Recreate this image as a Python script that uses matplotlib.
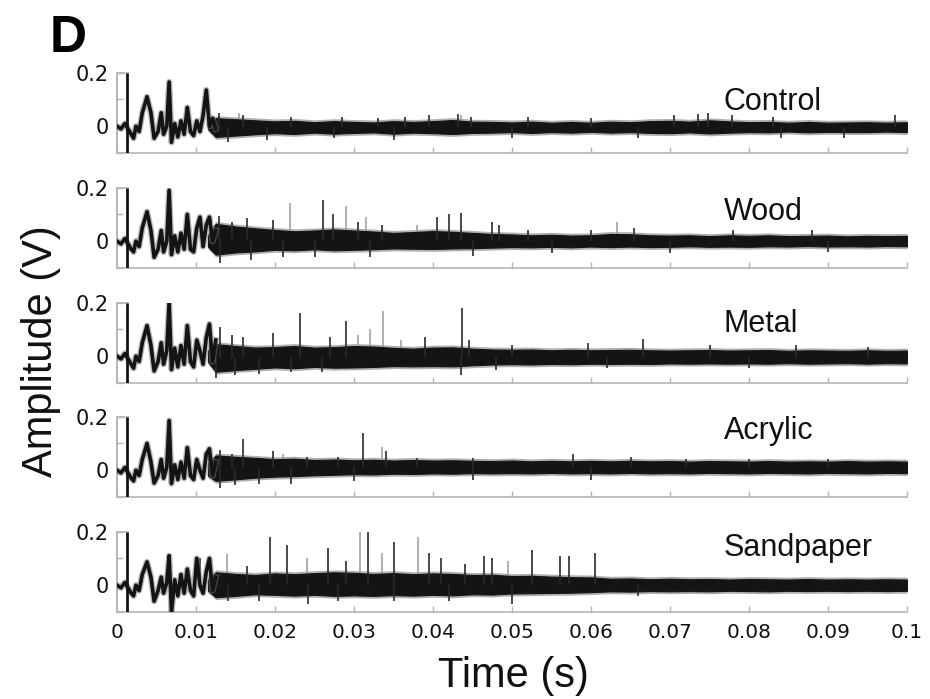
import numpy as np
import matplotlib
matplotlib.use('Agg')
import matplotlib.pyplot as plt
from matplotlib.transforms import blended_transform_factory

# ---------------- data ----------------
names = ['Control', 'Wood', 'Metal', 'Acrylic', 'Sandpaper']
x_ticks = [0, 0.01, 0.02, 0.03, 0.04, 0.05, 0.06, 0.07, 0.08, 0.09, 0.1]
x_tick_labels = ['0', '0.01', '0.02', '0.03', '0.04', '0.05', '0.06', '0.07', '0.08', '0.09', '0.1']
y_ticks = [-0.1, 0, 0.1, 0.2]
y_tick_labels = ['', '0', '', '0.2']

# early oscillation (s, V)
osc_t = [0, 0.0005, 0.001, 0.0018, 0.0021, 0.0024, 0.0028, 0.0032, 0.0038, 0.0043, 0.0047,
         0.0052, 0.0056, 0.0059, 0.0063, 0.0066, 0.0069, 0.0073, 0.0077, 0.0081, 0.0085,
         0.0089, 0.0093, 0.0097, 0.0101, 0.0105, 0.0109, 0.0113, 0.0117, 0.0121, 0.0125]
osc_control = [0.0, -0.01, 0.01, -0.03, -0.045, 0.0, -0.02, 0.05, 0.11, 0.05, -0.045,
               -0.02, 0.05, -0.03, 0.0, 0.165, -0.06, 0.01, -0.04, 0.02, -0.03,
               0.07, -0.02, -0.035, 0.02, -0.02, 0.04, 0.135, 0.0, 0.03, -0.01]
osc_wood = [0.0, -0.01, 0.01, -0.03, -0.04, 0.0, -0.02, 0.05, 0.11, 0.04, -0.06,
            -0.03, 0.04, -0.04, 0.0, 0.19, -0.05, 0.02, -0.04, 0.03, -0.03,
            0.1, -0.03, -0.04, 0.05, 0.09, -0.02, 0.06, 0.09, 0.0, 0.04]
osc_metal = [0.0, -0.01, 0.01, -0.03, -0.045, 0.0, -0.02, 0.05, 0.114, 0.04, -0.055,
             -0.02, 0.05, -0.03, 0.02, 0.2, -0.05, 0.03, -0.04, 0.04, -0.03,
             0.114, -0.02, -0.04, 0.06, 0.02, -0.03, 0.07, 0.12, -0.02, 0.06]
osc_acrylic = [0.0, -0.01, 0.01, -0.03, -0.04, 0.0, -0.02, 0.04, 0.10, 0.03, -0.048,
               -0.02, 0.04, -0.03, 0.01, 0.185, -0.05, 0.02, -0.035, 0.03, -0.03,
               0.084, -0.02, -0.035, 0.04, 0.0, -0.03, 0.06, 0.08, -0.02, 0.03]
osc_sandpaper = [0.0, -0.01, 0.01, -0.03, -0.04, 0.0, -0.02, 0.04, 0.087, 0.03, -0.06,
                 -0.02, 0.03, -0.03, 0.01, 0.11, -0.1, 0.02, -0.04, 0.04, -0.03,
                 0.06, -0.02, -0.04, 0.1, 0.0, -0.03, 0.05, 0.1, -0.02, 0.03]

# noise band envelope (s, V)
band_t = [0.0115, 0.0125, 0.015, 0.0175, 0.02, 0.0225, 0.025, 0.0275, 0.03, 0.0325, 0.035, 0.0375,
          0.04, 0.0425, 0.045, 0.0475, 0.05, 0.0525, 0.055, 0.0575, 0.06, 0.0625, 0.065,
          0.0675, 0.07, 0.0725, 0.075, 0.0775, 0.08, 0.0825, 0.085, 0.0875, 0.09, 0.0925,
          0.095, 0.0975, 0.1]
hi_control = [0.01, 0.03, 0.026, 0.022, 0.018, 0.02, 0.015, 0.019, 0.016, 0.014, 0.019, 0.016, 0.019,
              0.023, 0.017, 0.016, 0.014, 0.017, 0.013, 0.016, 0.013, 0.017, 0.015, 0.019, 0.02,
              0.017, 0.022, 0.018, 0.015, 0.016, 0.013, 0.016, 0.013, 0.014, 0.015, 0.013, 0.015]
lo_control = [-0.01, -0.04, -0.035, -0.03, -0.026, -0.029, -0.024, -0.028, -0.025, -0.023, -0.028, -0.024,
              -0.026, -0.029, -0.025, -0.024, -0.022, -0.025, -0.022, -0.024, -0.021, -0.024,
              -0.022, -0.025, -0.026, -0.023, -0.027, -0.024, -0.022, -0.023, -0.02, -0.023,
              -0.021, -0.022, -0.022, -0.02, -0.022]
hi_wood = [0.02, 0.065, 0.055, 0.048, 0.042, 0.037, 0.04, 0.044, 0.04, 0.036, 0.031, 0.034, 0.038, 0.035,
           0.031, 0.027, 0.025, 0.022, 0.024, 0.021, 0.022, 0.027, 0.026, 0.022, 0.021, 0.022,
           0.019, 0.022, 0.02, 0.022, 0.019, 0.02, 0.021, 0.018, 0.02, 0.019, 0.02]
lo_wood = [-0.02, -0.05, -0.042, -0.038, -0.032, -0.034, -0.03, -0.034, -0.032, -0.03, -0.027, -0.028,
           -0.029, -0.027, -0.026, -0.024, -0.022, -0.023, -0.021, -0.023, -0.02, -0.022, -0.02,
           -0.022, -0.021, -0.019, -0.021, -0.02, -0.021, -0.019, -0.02, -0.018, -0.02, -0.019,
           -0.02, -0.018, -0.019]
hi_metal = [0.02, 0.045, 0.038, 0.032, 0.034, 0.038, 0.032, 0.034, 0.038, 0.036, 0.031, 0.028, 0.032,
            0.033, 0.028, 0.025, 0.024, 0.025, 0.022, 0.024, 0.022, 0.023, 0.024, 0.022, 0.021,
            0.022, 0.023, 0.021, 0.022, 0.023, 0.02, 0.022, 0.021, 0.02, 0.022, 0.02, 0.021]
lo_metal = [-0.02, -0.058, -0.052, -0.047, -0.042, -0.045, -0.04, -0.043, -0.042, -0.04, -0.037, -0.038,
            -0.037, -0.038, -0.034, -0.031, -0.03, -0.031, -0.029, -0.03, -0.028, -0.029, -0.028,
            -0.029, -0.027, -0.028, -0.027, -0.028, -0.027, -0.028, -0.026, -0.028, -0.027, -0.026,
            -0.028, -0.026, -0.027]
hi_acrylic = [0.02, 0.055, 0.05, 0.046, 0.041, 0.043, 0.038, 0.04, 0.037, 0.039, 0.036, 0.038, 0.036,
              0.037, 0.035, 0.034, 0.036, 0.033, 0.035, 0.033, 0.035, 0.033, 0.035, 0.033, 0.034,
              0.032, 0.034, 0.033, 0.032, 0.034, 0.032, 0.033, 0.032, 0.034, 0.032, 0.033, 0.032]
lo_acrylic = [-0.02, -0.04, -0.034, -0.028, -0.024, -0.022, -0.019, -0.017, -0.015, -0.016, -0.013,
              -0.014, -0.012, -0.013, -0.011, -0.012, -0.011, -0.012, -0.01, -0.012, -0.011, -0.012,
              -0.01, -0.012, -0.011, -0.012, -0.01, -0.011, -0.012, -0.01, -0.011, -0.012, -0.01,
              -0.011, -0.012, -0.01, -0.011]
hi_sandpaper = [0.02, 0.048, 0.042, 0.038, 0.044, 0.041, 0.045, 0.048, 0.046, 0.042, 0.045, 0.041, 0.044,
                0.042, 0.038, 0.039, 0.034, 0.035, 0.032, 0.03, 0.029, 0.024, 0.025, 0.022, 0.024,
                0.022, 0.023, 0.021, 0.023, 0.022, 0.021, 0.023, 0.021, 0.022, 0.021, 0.022, 0.021]
lo_sandpaper = [-0.02, -0.045, -0.04, -0.034, -0.036, -0.039, -0.036, -0.04, -0.038, -0.04, -0.037,
                -0.039, -0.036, -0.038, -0.034, -0.035, -0.031, -0.03, -0.029, -0.028, -0.026, -0.023,
                -0.024, -0.022, -0.023, -0.022, -0.023, -0.021, -0.022, -0.023, -0.021, -0.022,
                -0.021, -0.022, -0.021, -0.022, -0.021]

# spikes (time s, peak V)
dark_control = [(0.0129, 0.05), (0.016, 0.04), (0.022, 0.035), (0.0285, 0.035), (0.033, 0.03),
                (0.0365, 0.035), (0.0395, 0.04), (0.0432, 0.045), (0.0448, 0.035), (0.052, 0.035),
                (0.06, 0.03), (0.0705, 0.04), (0.0735, 0.045), (0.0748, 0.05), (0.0778, 0.04),
                (0.083, 0.035), (0.0985, 0.04), (0.014, -0.06), (0.019, -0.05), (0.0275, -0.045),
                (0.035, -0.05), (0.05, -0.045), (0.066, -0.045), (0.084, -0.045), (0.092, -0.045)]
gray_control = [(0.0155, 0.05), (0.0435, 0.04)]
dark_wood = [(0.0129, 0.095), (0.0145, 0.07), (0.0165, 0.085), (0.0198, 0.08), (0.0261, 0.155),
             (0.0274, 0.1), (0.0305, 0.07), (0.0335, 0.06), (0.0405, 0.09), (0.042, 0.1),
             (0.0435, 0.106), (0.0475, 0.07), (0.0484, 0.06), (0.052, 0.04), (0.06, 0.04),
             (0.0655, 0.05), (0.078, 0.04), (0.088, 0.04), (0.013, -0.08), (0.017, -0.07),
             (0.021, -0.06), (0.025, -0.06), (0.032, -0.06), (0.045, -0.055), (0.055, -0.045),
             (0.07, -0.045), (0.09, -0.04)]
gray_wood = [(0.0219, 0.143), (0.029, 0.13), (0.0315, 0.09), (0.0633, 0.073), (0.038, 0.06)]
dark_metal = [(0.0118, 0.12), (0.013, 0.11), (0.0145, 0.08), (0.016, 0.07), (0.0198, 0.087),
              (0.0232, 0.163), (0.027, 0.07), (0.029, 0.13), (0.039, 0.07), (0.0437, 0.18),
              (0.0445, 0.06), (0.05, 0.04), (0.0596, 0.05), (0.0666, 0.065), (0.075, 0.04),
              (0.086, 0.04), (0.095, 0.035), (0.0125, -0.08), (0.015, -0.07), (0.018, -0.065),
              (0.022, -0.06), (0.026, -0.06), (0.0435, -0.07), (0.048, -0.05), (0.062, -0.045),
              (0.08, -0.045)]
gray_metal = [(0.032, 0.1), (0.0337, 0.17), (0.0305, 0.08), (0.036, 0.06)]
dark_acrylic = [(0.0116, 0.08), (0.013, 0.075), (0.0145, 0.06), (0.016, 0.117), (0.0198, 0.07),
                (0.024, 0.05), (0.028, 0.05), (0.0312, 0.14), (0.034, 0.07), (0.038, 0.045),
                (0.045, 0.045), (0.0577, 0.06), (0.065, 0.05), (0.072, 0.04), (0.08, 0.04),
                (0.09, 0.04), (0.013, -0.065), (0.015, -0.055), (0.018, -0.05), (0.022, -0.05),
                (0.03, -0.04), (0.045, -0.035), (0.06, -0.035)]
gray_acrylic = [(0.021, 0.06), (0.0335, 0.085)]
dark_sandpaper = [(0.0105, 0.1), (0.0118, 0.1), (0.0165, 0.07), (0.0194, 0.18), (0.0215, 0.15),
                  (0.0267, 0.14), (0.0318, 0.2), (0.035, 0.16), (0.0395, 0.12), (0.041, 0.1),
                  (0.0464, 0.11), (0.0475, 0.1), (0.0525, 0.13), (0.0561, 0.11), (0.0572, 0.11),
                  (0.0605, 0.12), (0.029, 0.09), (0.044, 0.08), (0.0242, -0.07), (0.05, -0.07),
                  (0.014, -0.06), (0.018, -0.06), (0.028, -0.06), (0.035, -0.06), (0.042, -0.06),
                  (0.066, -0.04)]
gray_sandpaper = [(0.0139, 0.117), (0.0308, 0.2), (0.0381, 0.18), (0.024, 0.1), (0.0335, 0.12),
                  (0.0495, 0.09)]

trigger_t = 0.0013
pulse_t = [0.0, 0.0, 0.0014]
pulse_v = [-0.1, 0.2, 0.2]

osc = [osc_control, osc_wood, osc_metal, osc_acrylic, osc_sandpaper]
his = [hi_control, hi_wood, hi_metal, hi_acrylic, hi_sandpaper]
los = [lo_control, lo_wood, lo_metal, lo_acrylic, lo_sandpaper]
darks = [dark_control, dark_wood, dark_metal, dark_acrylic, dark_sandpaper]
grays = [gray_control, gray_wood, gray_metal, gray_acrylic, gray_sandpaper]
label_y = [0.54, 0.60, 0.64, 0.72, 0.70]

# ---------------- figure ----------------
fig = plt.figure(figsize=(9.3, 6.99), dpi=100)
bottoms = [0.7811, 0.6166, 0.4521, 0.2890, 0.1245]
left, width, height = 0.1258, 0.8495, 0.1150
spine_col = '#b5b5b5'
ink = '#141414'
gray_ink = '#9a9a9a'
fuzz = 0.009

for i in range(5):
    ax = fig.add_axes([left, bottoms[i], width, height])
    ax.set_xlim(0, 0.1)
    ax.set_ylim(-0.1, 0.2)
    bt = np.array(band_t)
    hi = np.array(his[i])
    lo = np.array(los[i])
    mid = (hi + lo) / 2
    # soft halo of the dense trace
    ax.fill_between(bt, lo - fuzz, hi + fuzz, color='#6e6e6e', lw=0, alpha=0.55, zorder=1)
    # gray spikes (second trace)
    for (t, v) in grays[i]:
        ax.vlines(t, np.interp(t, bt, mid), v, color=gray_ink, lw=1.1, zorder=2)
    # band core
    ax.fill_between(bt, lo, hi, color=ink, lw=0.8, edgecolor=ink, zorder=3)
    # dark spikes
    for (t, v) in darks[i]:
        ax.vlines(t, np.interp(t, bt, mid), v, color='#2a2a2a', lw=1.2, zorder=3)
    # early oscillation
    ax.plot(osc_t, osc[i], color='#777777', lw=4.5, alpha=0.5, zorder=3)
    ax.plot(osc_t, osc[i], color=ink, lw=2.6, zorder=4)
    # trigger pulse
    ax.plot(pulse_t, pulse_v, color=spine_col, lw=1.2, zorder=2, clip_on=False)
    ax.vlines(trigger_t, -0.1, 0.2, color=ink, lw=2.0, zorder=5)

    for s in ['top', 'right']:
        ax.spines[s].set_visible(False)
    for s in ['left', 'bottom']:
        ax.spines[s].set_color(spine_col)
        ax.spines[s].set_linewidth(1.2)
    ax.set_xticks(x_ticks)
    ax.set_yticks(y_ticks)
    ax.set_yticklabels(y_tick_labels, fontfamily='DejaVu Sans', fontsize=15, color='#111111')
    if i == 4:
        ax.set_xticklabels(x_tick_labels, fontfamily='DejaVu Sans', fontsize=14.5, color='#111111')
    else:
        ax.set_xticklabels([])
    ax.tick_params(axis='both', direction='in', length=4, width=1.0, color=spine_col)
    ax.tick_params(axis='y', pad=6)
    ax.tick_params(axis='x', pad=8)
    ax.text(0.0768, label_y[i], names[i],
            transform=blended_transform_factory(ax.transData, ax.transAxes),
            ha='left', va='baseline', fontsize=22, fontfamily='Liberation Sans', color='#111111')

fig.text(0.5516, 0.0329, 'Time (s)', ha='center', va='center', fontsize=30,
         fontfamily='Liberation Sans', color='#111111')
fig.text(0.0441, 0.4979, 'Amplitude (V)', ha='center', va='center', rotation=90, fontsize=30,
         fontfamily='Liberation Sans', color='#111111')
fig.text(0.0538, 0.9256, 'D', ha='left', va='baseline', fontsize=37, fontweight='bold',
         fontfamily='Liberation Sans', color='#000000')

fig.savefig('out.png', dpi=100)
